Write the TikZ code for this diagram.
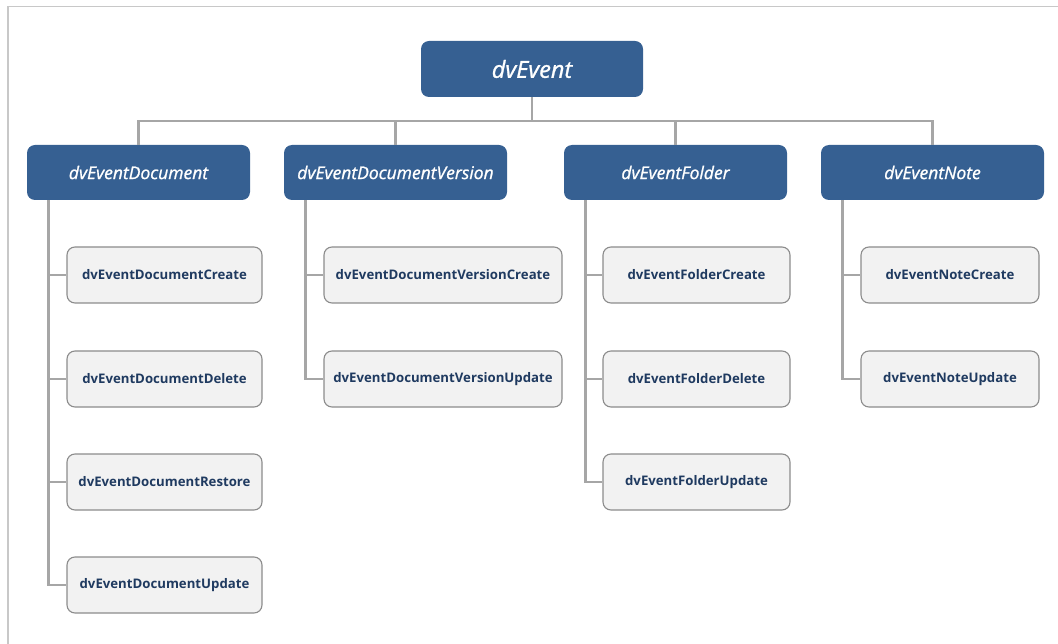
\documentclass[tikz,border=0pt]{standalone}
\usepackage{fontspec}
\setmainfont{Open Sans}
\newfontfamily\hdrfont{Open Sans}[FakeBold=1.1]
\definecolor{hdrblue}{HTML}{366092}
\definecolor{leaffill}{HTML}{F2F2F2}
\definecolor{leafedge}{HTML}{8C8C8C}
\definecolor{leaftext}{HTML}{1F3A60}
\definecolor{connector}{HTML}{A6A6A6}
\definecolor{framegray}{HTML}{C8C8C8}
\tikzset{
  rootbox/.style={fill=hdrblue, rounded corners=8pt, minimum width=222pt, minimum height=56pt,
    inner sep=0pt, text=white, font=\hdrfont\fontsize{23.5}{28}\selectfont\itshape},
  groupbox/.style={fill=hdrblue, rounded corners=8pt, minimum width=223pt, minimum height=55pt,
    inner sep=0pt, text=white, font=\hdrfont\fontsize{17.5}{21}\selectfont\itshape},
  leafbox/.style={fill=leaffill, draw=leafedge, line width=1.1pt, rounded corners=8pt,
    minimum height=56pt, inner sep=0pt, text=leaftext, font=\fontsize{13.2}{16}\selectfont\bfseries},
  conn/.style={draw=connector, line width=2.6pt},
  framestyle/.style={draw=framegray, line width=1.6pt}
}
\begin{document}
\begin{tikzpicture}[x=1pt,y=-1pt]
\useasboundingbox (0,0) rectangle (1058,644);
% outer frame (top and left edges)
\draw[framestyle] (8,644) -- (8,6.5) -- (1058,6.5);

% root
\node[rootbox] (root) at (532,69) {dvEvent};

% second level
\node[groupbox] (doc) at (138.5,172.5) {dvEventDocument};
\node[groupbox] (ver) at (395.5,172.5) {dvEventDocumentVersion};
\node[groupbox] (fol) at (675.5,172.5) {dvEventFolder};
\node[groupbox] (note) at (932.5,172.5) {dvEventNote};

% leaves
\node[leafbox, minimum width=195pt] (dcreate)  at (164.5,275) {dvEventDocumentCreate};
\node[leafbox, minimum width=195pt] (ddelete)  at (164.5,379) {dvEventDocumentDelete};
\node[leafbox, minimum width=195pt] (drestore) at (164.5,482) {dvEventDocumentRestore};
\node[leafbox, minimum width=195pt] (dupdate)  at (164.5,585) {dvEventDocumentUpdate};

\node[leafbox, minimum width=238pt] (vcreate) at (443,275) {dvEventDocumentVersionCreate};
\node[leafbox, minimum width=238pt] (vupdate) at (443,379) {dvEventDocumentVersionUpdate};

\node[leafbox, minimum width=187pt] (fcreate) at (696.5,275) {dvEventFolderCreate};
\node[leafbox, minimum width=187pt] (fdelete) at (696.5,379) {dvEventFolderDelete};
\node[leafbox, minimum width=187pt] (fupdate) at (696.5,482) {dvEventFolderUpdate};

\node[leafbox, minimum width=178pt] (ncreate) at (950,275) {dvEventNoteCreate};
\node[leafbox, minimum width=178pt] (nupdate) at (950,379) {dvEventNoteUpdate};

% root to groups
\coordinate (bus) at (532,121);
\draw[conn] (root.south) -- (bus);
\draw[conn] (doc.north) -- (doc.north |- bus) -- (note.north |- bus) -- (note.north);
\draw[conn] (ver.north) -- (ver.north |- bus);
\draw[conn] (fol.north) -- (fol.north |- bus);

% groups to leaves
\foreach \g/\leaf in {doc/dcreate, doc/ddelete, doc/drestore, doc/dupdate,
                      ver/vcreate, ver/vupdate,
                      fol/fcreate, fol/fdelete, fol/fupdate,
                      note/ncreate, note/nupdate}
  \draw[conn] ([xshift=21.5pt]\g.south west) |- (\leaf.west);
\end{tikzpicture}
\end{document}
